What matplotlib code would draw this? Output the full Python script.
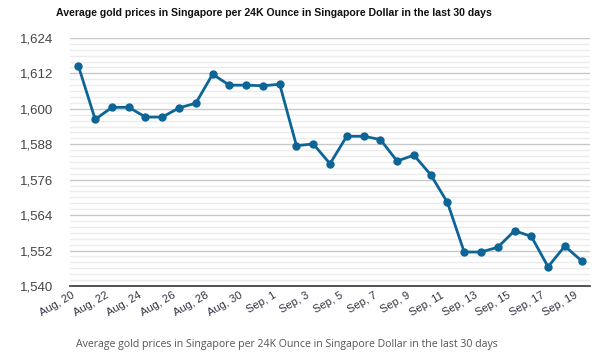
import numpy as np
import matplotlib.pyplot as plt
from matplotlib.transforms import ScaledTranslation

# Average gold price (SGD per 24K ounce), Aug 20 - Sep 19
days = ['Aug, 20', 'Aug, 21', 'Aug, 22', 'Aug, 23', 'Aug, 24', 'Aug, 25', 'Aug, 26',
        'Aug, 27', 'Aug, 28', 'Aug, 29', 'Aug, 30', 'Aug, 31', 'Sep, 1', 'Sep, 2',
        'Sep, 3', 'Sep, 4', 'Sep, 5', 'Sep, 6', 'Sep, 7', 'Sep, 8', 'Sep, 9',
        'Sep, 10', 'Sep, 11', 'Sep, 12', 'Sep, 13', 'Sep, 14', 'Sep, 15', 'Sep, 16',
        'Sep, 17', 'Sep, 18', 'Sep, 19']
prices = [1614.5, 1596.4, 1600.5, 1600.5, 1597.2, 1597.2, 1600.3, 1601.9,
          1611.7, 1608.0, 1608.0, 1607.8, 1608.3, 1587.5, 1588.1, 1581.4,
          1590.7, 1590.7, 1589.6, 1582.3, 1584.3, 1577.7, 1568.3, 1551.5,
          1551.5, 1553.1, 1558.7, 1556.8, 1546.5, 1553.5, 1548.5]
y_ticks = [1540, 1552, 1564, 1576, 1588, 1600, 1612, 1624]

title = 'Average gold prices in Singapore per 24K Ounce in Singapore Dollar in the last 30 days'

fig = plt.figure(figsize=(6.01, 3.6), dpi=100)
ax = fig.add_axes([0.1165, 0.2056, 0.8652, 0.6891])

x = np.arange(len(prices))

# minor + major grid
for v in np.arange(1540, 1625, 2):
    if v not in y_ticks:
        ax.axhline(v, color='#ebebeb', lw=1, zorder=0)
for v in y_ticks[1:]:
    ax.axhline(v, color='#c8c8c8', lw=1, zorder=0)

ax.plot(x, prices, color='#0c6596', lw=2, marker='o', markersize=5, zorder=3)

ax.set_xlim(-0.5, len(prices) - 0.5)
ax.set_ylim(1540, 1624)
ax.set_yticks(y_ticks)
ax.set_yticklabels([f'{v:,}' for v in y_ticks], fontsize=9.5, color='#444444',
                   family='Liberation Sans')
ax.set_xticks(x[::2])
ax.set_xticklabels(days[::2], rotation=30, ha='right', rotation_mode='anchor',
                   fontsize=8, color='#333344', family='Liberation Sans')
ax.tick_params(axis='y', length=0, pad=12)
ax.tick_params(axis='x', length=0, pad=3)
shift = ScaledTranslation(-7 / 100, 0, fig.dpi_scale_trans)
for lbl in ax.get_xticklabels():
    lbl.set_transform(lbl.get_transform() + shift)

for side in ['top', 'right', 'left']:
    ax.spines[side].set_visible(False)
ax.spines['bottom'].set_color('#333333')
ax.spines['bottom'].set_linewidth(1.2)

fig.text(0.455, 0.965, title, ha='center', va='center', fontsize=7.6,
         fontweight='bold', family='Liberation Sans', color='#111111')
fig.text(0.478, 0.044, title, ha='center', va='center', fontsize=7.6,
         family='Open Sans', color='#555555')

fig.savefig('out.png', dpi=100)
